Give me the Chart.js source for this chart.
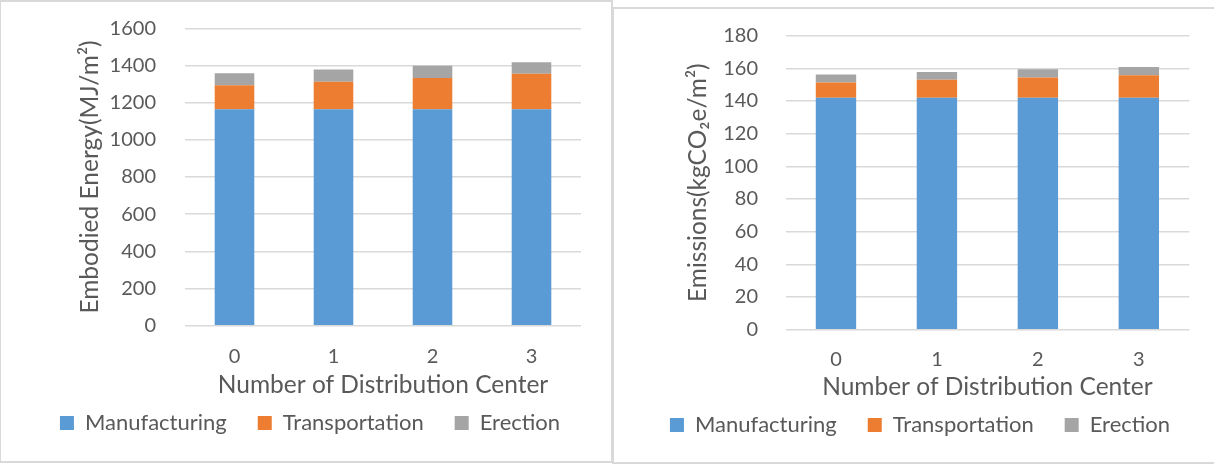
<!DOCTYPE html>
<html>
<head>
<meta charset="utf-8">
<script src="https://cdn.jsdelivr.net/npm/chart.js@4.4.1/dist/chart.umd.min.js"></script>
<style>
  html, body { margin: 0; padding: 0; background: #fff; width: 1214px; height: 466px; overflow: hidden; position: relative; }
  .panel { position: absolute; box-sizing: border-box; border: 2px solid #d9d9d9; pointer-events: none; }
  canvas { position: absolute; }
</style>
</head>
<body>
<canvas id="energy" width="612" height="462" style="left:0;top:0;width:612px;height:462px"></canvas>
<canvas id="emissions" width="601" height="459" style="left:613px;top:7px;width:601px;height:459px"></canvas>
<div class="panel" style="left:0;top:0;width:613px;height:463px;border-left-width:1px"></div>
<div class="panel" style="left:612px;top:7px;width:606px;height:457px"></div>
<script>
// Number of distribution centres on the x axis
const categories = ['0', '1', '2', '3'];

// Embodied energy per floor area, MJ/m²
const energyManufacturing = [1165, 1165, 1165, 1165];
const energyTransportation = [128, 148, 168, 190];
const energyErection = [65, 65, 65, 63];

// Emissions per floor area, kgCO2e/m²
const emissionManufacturing = [142, 142, 142, 142];
const emissionTransportation = [9.3, 11.0, 12.4, 13.8];
const emissionErection = [5.0, 4.8, 5.0, 5.0];

const seriesNames = ['Manufacturing', 'Transportation', 'Erection'];
const seriesColors = ['#5B9BD5', '#ED7D31', '#A5A5A5'];

const FONT = 'Lato, "Open Sans", sans-serif';
const TEXT = '#595959';
const GRID = '#D9D9D9';

function stackedChart(id, stacks, yTitle, yMax, yStep, g) {
  const datasets = stacks.map((values, i) => ({
    label: seriesNames[i],
    data: values,
    backgroundColor: seriesColors[i],
    borderWidth: 0,
    barPercentage: 0.4,
    categoryPercentage: 1.0
  }));
  return new Chart(document.getElementById(id), {
    type: 'bar',
    data: { labels: categories, datasets },
    options: {
      responsive: false,
      animation: false,
      layout: { padding: { left: g.padL, right: 0, top: g.padT, bottom: g.padB } },
      plugins: {
        tooltip: { enabled: false },
        legend: {
          position: 'bottom',
          align: 'center',
          labels: {
            boxWidth: 14,
            boxHeight: 14,
            padding: 31,
            color: TEXT,
            font: { family: FONT, size: 22 }
          }
        }
      },
      scales: {
        x: {
          stacked: true,
          grid: { display: false, drawTicks: false },
          border: { display: false },
          ticks: { color: TEXT, padding: g.xTickPad, font: { family: FONT, size: 20 } },
          title: {
            display: true,
            text: 'Number of Distribution Center',
            color: TEXT,
            font: { family: FONT, size: 24.5 },
            padding: { top: 0, bottom: g.xTitlePad }
          },
          afterFit: (s) => { s.height = g.xHeight; }
        },
        y: {
          stacked: true,
          min: 0,
          max: yMax,
          ticks: {
            stepSize: yStep,
            autoSkip: false,
            color: TEXT,
            padding: g.yTickPad,
            font: { family: FONT, size: 20 },
            callback: (v) => String(v)
          },
          grid: { color: GRID, lineWidth: 1.6, drawTicks: false },
          border: { display: false },
          title: {
            display: true,
            text: yTitle,
            color: TEXT,
            font: { family: FONT, size: 24.5 },
            padding: { top: g.yTitlePad, bottom: 0 }
          },
          afterFit: (s) => {
            s.width = g.yWidth;
            // the layout padding already leaves room for the end labels
            s.paddingTop = 0;
            s.paddingBottom = 0;
          }
        },
        // blank strip that keeps the plot clear of the right edge
        margin: {
          type: 'linear',
          position: 'right',
          display: true,
          grid: { display: false, drawTicks: false },
          border: { display: false },
          ticks: { display: false },
          afterFit: (s) => { s.width = g.rightGap; s.paddingTop = 0; s.paddingBottom = 0; }
        }
      }
    }
  });
}

stackedChart('energy',
  [energyManufacturing, energyTransportation, energyErection],
  'Embodied Energy(MJ/m²)', 1600, 200,
  { padL: 8, rightGap: 31, padT: 28.3, padB: 18, yWidth: 177, xHeight: 55.3,
    yTickPad: 29, xTickPad: 19.3, yTitlePad: 67.3, xTitlePad: -18.7 });

stackedChart('emissions',
  [emissionManufacturing, emissionTransportation, emissionErection],
  'Emissions(kgCO₂e/m²)', 180, 20,
  { padL: 13, rightGap: 24.7, padT: 28.7, padB: 20, yWidth: 159.5, xHeight: 53.3,
    yTickPad: 27.5, xTickPad: 18.3, yTitlePad: 57.3, xTitlePad: -18.7 });
</script>
</body>
</html>
